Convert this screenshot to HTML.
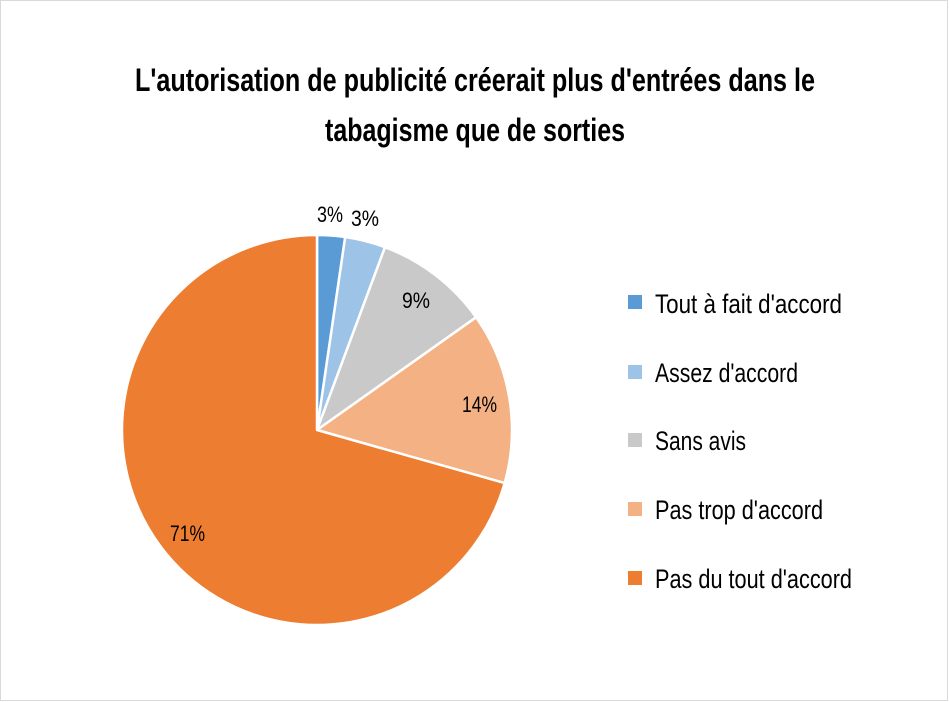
<!DOCTYPE html>
<html><head><meta charset="utf-8"><style>
html,body{margin:0;padding:0;background:#fff;}
svg{display:block;}
text{font-family:"Liberation Sans Narrow","Liberation Sans",sans-serif;fill:#000;}
</style></head><body>
<svg width="949" height="702" viewBox="0 0 949 702">
<rect x="0.5" y="0.5" width="947" height="700" fill="#fff" stroke="#d9d9d9"/>
<text x="475" y="91" font-size="32" font-weight="bold" text-anchor="middle" textLength="680" lengthAdjust="spacingAndGlyphs">L'autorisation de publicité créerait plus d'entrées dans le</text>
<text x="475" y="141" font-size="32" font-weight="bold" text-anchor="middle" textLength="300" lengthAdjust="spacingAndGlyphs">tabagisme que de sorties</text>
<g stroke="#fff" stroke-width="2.5" stroke-linejoin="round">
<path d="M317,430 L317,235 A195,195 0 0 1 345.2,237 Z" fill="#5b9bd5"/>
<path d="M317,430 L345.2,237 A195,195 0 0 1 385,247.2 Z" fill="#9dc3e6"/>
<path d="M317,430 L385,247.2 A195,195 0 0 1 476.1,317.3 Z" fill="#c9c9c9"/>
<path d="M317,430 L476.1,317.3 A195,195 0 0 1 504.6,483.1 Z" fill="#f4b183"/>
<path d="M317,430 L504.6,483.1 A195,195 0 1 1 317,235 Z" fill="#ed7d31"/>
</g>
<g font-size="22">
<text x="317" y="222" textLength="26" lengthAdjust="spacingAndGlyphs">3%</text>
<text x="351" y="226" textLength="28" lengthAdjust="spacingAndGlyphs">3%</text>
<text x="402" y="308" textLength="28" lengthAdjust="spacingAndGlyphs">9%</text>
<text x="462" y="412" textLength="35" lengthAdjust="spacingAndGlyphs">14%</text>
<text x="170" y="541" textLength="35" lengthAdjust="spacingAndGlyphs">71%</text>
</g>
<g font-size="27">
<rect x="628" y="295" width="14" height="14" fill="#5b9bd5"/>
<text x="655" y="313" textLength="187" lengthAdjust="spacingAndGlyphs">Tout à fait d'accord</text>
<rect x="628" y="365" width="14" height="14" fill="#9dc3e6"/>
<text x="655" y="382" textLength="143" lengthAdjust="spacingAndGlyphs">Assez d'accord</text>
<rect x="628" y="433" width="14" height="14" fill="#c9c9c9"/>
<text x="655" y="450" textLength="91" lengthAdjust="spacingAndGlyphs">Sans avis</text>
<rect x="628" y="502" width="14" height="14" fill="#f4b183"/>
<text x="655" y="519" textLength="168" lengthAdjust="spacingAndGlyphs">Pas trop d'accord</text>
<rect x="628" y="571" width="14" height="14" fill="#ed7d31"/>
<text x="655" y="588" textLength="197" lengthAdjust="spacingAndGlyphs">Pas du tout d'accord</text>
</g>
</svg>
</body></html>
